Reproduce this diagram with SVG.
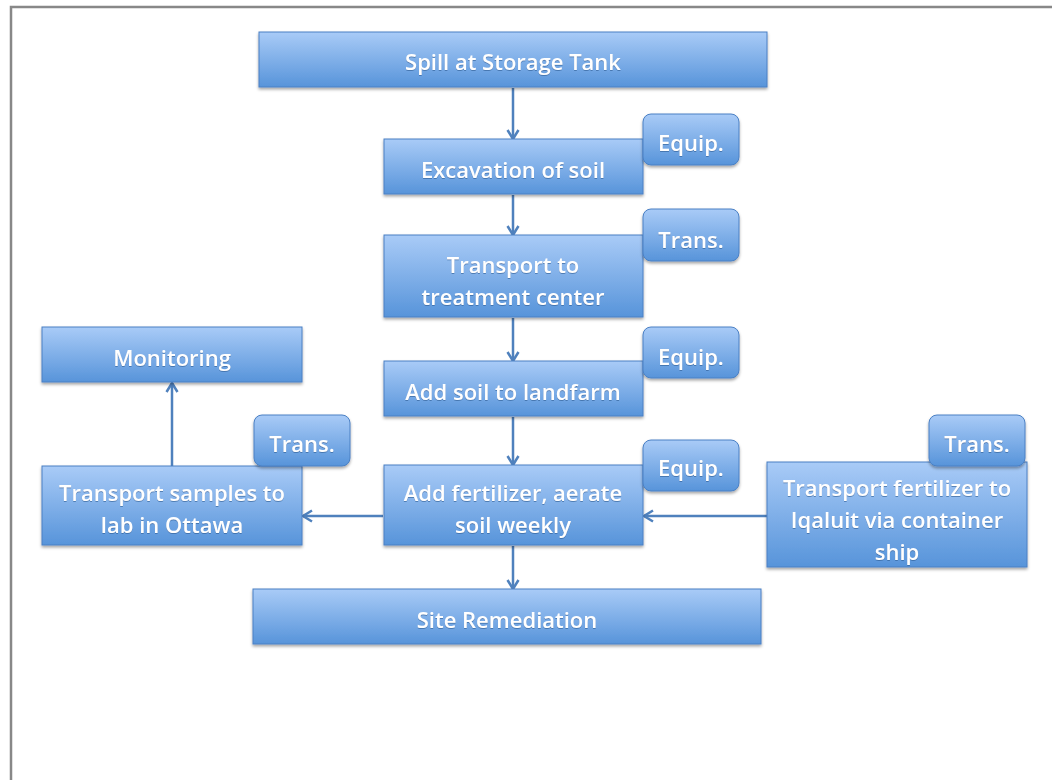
<svg xmlns="http://www.w3.org/2000/svg" width="1052" height="780" viewBox="0 0 1052 780">
<defs>
<linearGradient id="g" x1="0" y1="0" x2="0" y2="1">
<stop offset="0" stop-color="#a9cbf7"/>
<stop offset="1" stop-color="#5794da"/>
</linearGradient>
<filter id="sh" x="-10%" y="-10%" width="120%" height="130%">
<feDropShadow dx="0" dy="2" stdDeviation="1.5" flood-color="#000" flood-opacity="0.35"/>
</filter>
<filter id="ts" x="-5%" y="-20%" width="110%" height="140%">
<feDropShadow dx="0" dy="1" stdDeviation="0.6" flood-color="#2a5a90" flood-opacity="0.6"/>
</filter>
<marker id="ah" markerWidth="14" markerHeight="14" viewBox="0 0 14 14" refX="12" refY="7" orient="auto" markerUnits="userSpaceOnUse">
<path d="M3,1.5 L12,7 L3,12.5" fill="none" stroke="#4f81bd" stroke-width="2.5"/>
</marker>
</defs>
<style>
.b{fill:url(#g);stroke:#4a80c4;stroke-width:1;filter:url(#sh)}
.t{font-family:"Open Sans","Liberation Sans",sans-serif;font-size:22px;font-weight:600;fill:#fff;text-anchor:middle;dominant-baseline:central;filter:url(#ts)}
.c{fill:none;stroke:#4f81bd;stroke-width:2.5;marker-end:url(#ah)}
</style>
<rect x="0" y="0" width="1052" height="780" fill="#fff"/>
<path d="M11,790 L11,7 L1060,7" fill="none" stroke="#888" stroke-width="2.5"/>
<g id="connectors">
<line class="c" x1="513" y1="88" x2="513" y2="139"/>
<line class="c" x1="513" y1="195" x2="513" y2="235"/>
<line class="c" x1="513" y1="318" x2="513" y2="361"/>
<line class="c" x1="513" y1="417" x2="513" y2="465"/>
<line class="c" x1="513" y1="546" x2="513" y2="589"/>
<line class="c" x1="383" y1="516" x2="303" y2="516"/>
<line class="c" x1="767" y1="516" x2="644" y2="516"/>
<line class="c" x1="172" y1="466" x2="172" y2="383"/>
</g>
<g id="spill"><rect class="b" x="259" y="32" width="508" height="55"/><text class="t" x="513" y="61">Spill at Storage Tank</text></g>
<g id="excavation"><rect class="b" x="384" y="139" width="259" height="55"/><text class="t" x="513" y="169">Excavation of soil</text></g>
<g id="equip1"><rect class="b" x="643" y="114" width="96" height="51" rx="8"/><text class="t" x="691" y="142">Equip.</text></g>
<g id="transport"><rect class="b" x="384" y="235" width="259" height="82"/><text class="t" x="513" y="264">Transport to</text><text class="t" x="513" y="296">treatment center</text></g>
<g id="trans1"><rect class="b" x="643" y="209" width="96" height="52" rx="8"/><text class="t" x="691" y="239">Trans.</text></g>
<g id="landfarm"><rect class="b" x="384" y="361" width="259" height="55"/><text class="t" x="513" y="391">Add soil to landfarm</text></g>
<g id="equip2"><rect class="b" x="643" y="327" width="96" height="51" rx="8"/><text class="t" x="691" y="356">Equip.</text></g>
<g id="fertilizer"><rect class="b" x="384" y="465" width="259" height="80"/><text class="t" x="513" y="492">Add fertilizer, aerate</text><text class="t" x="513" y="524">soil weekly</text></g>
<g id="equip3"><rect class="b" x="643" y="440" width="96" height="51" rx="8"/><text class="t" x="691" y="467">Equip.</text></g>
<g id="site"><rect class="b" x="253" y="589" width="508" height="55"/><text class="t" x="507" y="619">Site Remediation</text></g>
<g id="monitoring"><rect class="b" x="42" y="327" width="260" height="55"/><text class="t" x="172" y="357">Monitoring</text></g>
<g id="samples"><rect class="b" x="42" y="466" width="260" height="79"/><text class="t" x="172" y="492">Transport samples to</text><text class="t" x="172" y="524">lab in Ottawa</text></g>
<g id="trans2"><rect class="b" x="254" y="415" width="96" height="51" rx="8"/><text class="t" x="302" y="443">Trans.</text></g>
<g id="shipping"><rect class="b" x="767" y="462" width="260" height="105"/><text class="t" x="897" y="487">Transport fertilizer to</text><text class="t" x="897" y="519">Iqaluit via container</text><text class="t" x="897" y="551">ship</text></g>
<g id="trans3"><rect class="b" x="929" y="415" width="96" height="51" rx="8"/><text class="t" x="977" y="443">Trans.</text></g>
</svg>
